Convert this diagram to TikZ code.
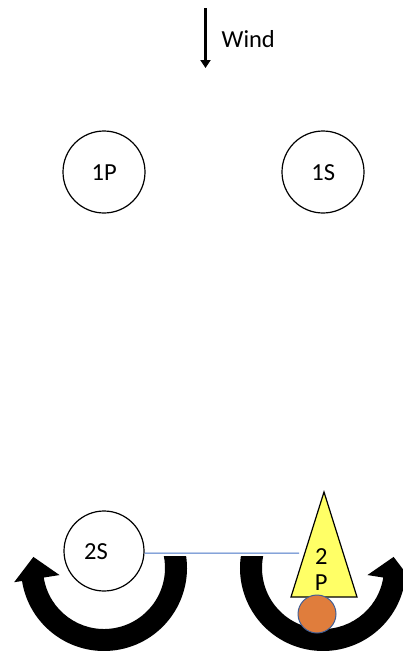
\documentclass[tikz,border=0pt]{standalone}
\usepackage{fontspec}
\setmainfont{Carlito}
\usetikzlibrary{calc,arrows.meta}
\definecolor{triyellow}{RGB}{255,255,102}
\definecolor{ballorange}{RGB}{224,125,60}
\definecolor{ballblue}{RGB}{65,95,150}
\definecolor{lineblue}{RGB}{68,114,196}
\tikzset{
  ring/.style={circle, draw=black, line width=1.2pt, fill=white, minimum size=#1, inner sep=0pt},
  lbl/.style={anchor=base, inner sep=0pt, font=\fontsize{24.5}{26}\selectfont},
  uarrow/.style={fill=black},
  tri/.style={fill=triyellow, draw=black, line width=1.2pt, line join=miter},
  ball/.style={circle, fill=ballorange, draw=ballblue, line width=1pt, minimum size=38pt, inner sep=0pt},
  windarrow/.style={line width=2.2pt, -{Triangle[length=8pt,width=10pt]}},
  link/.style={draw=lineblue, line width=1pt}
}
\begin{document}
\begin{tikzpicture}[x=1pt,y=1pt]
\useasboundingbox (0,0) rectangle (402,-651);

% wind
\coordinate (wtop) at (205.5,-8);
\coordinate (wbot) at (205.5,-68);
\draw[windarrow] (wtop) -- (wbot);
\node[lbl, anchor=base west] (wind) at (221.5,-47.3) {Wind};

% upper circles
\node[ring=82pt] (c1P) at (104,-172) {};
\node[ring=82pt] (c1S) at (323,-172) {};
\node[lbl] (t1P) at (104.2,-180.7) {1P};
\node[lbl] (t1S) at (323.2,-180.7) {1S};

% left U arrow
\coordinate (CL) at (104,-568);
\fill[uarrow] ($(CL)+(8.3:83)$) arc[start angle=8.3, end angle=-171, radius=83]
  -- ($(CL)+(-171:91)$) -- ($(CL)+(-171:68)+(99:22)$) -- ($(CL)+(-171:45)$)
  -- ($(CL)+(-171:61)$) arc[start angle=-171, end angle=11.3, radius=61] -- cycle;

% right U arrow
\coordinate (CR) at (323,-568);
\fill[uarrow] ($(CR)+(171.7:83)$) arc[start angle=171.7, end angle=351, radius=83]
  -- ($(CR)+(351:91)$) -- ($(CR)+(351:68)+(81:22)$) -- ($(CR)+(351:45)$)
  -- ($(CR)+(351:61)$) arc[start angle=351, end angle=168.7, radius=61] -- cycle;

% 2S
\node[ring=80pt] (c2S) at (104,-551) {};
\node[lbl] (t2S) at (96,-559.3) {2S};

% connector
\coordinate (lend) at (299,-553);
\draw[link] (c2S.-3) -- (lend);

% triangle 2P
\coordinate (tA) at (324,-492);
\coordinate (tB) at (291,-597);
\coordinate (tC) at (357,-597);
\filldraw[tri] (tA) -- (tB) -- (tC) -- cycle;
\node[lbl] (t2) at (321.3,-564) {2};
\node[lbl] (tP) at (321.3,-590) {P};

% ball
\node[ball] (ball) at (317,-614) {};
\end{tikzpicture}
\end{document}
